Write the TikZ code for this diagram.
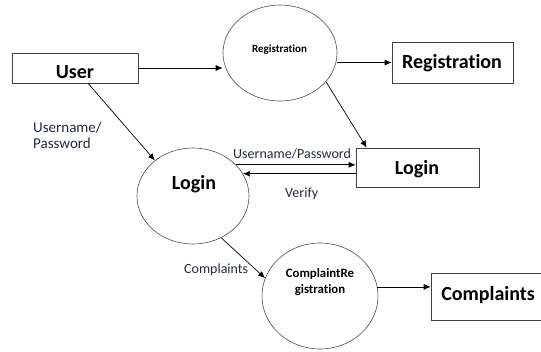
\documentclass[tikz,border=0pt]{standalone}
\usepackage{fontspec}
\setmainfont{Carlito}[Ligatures={NoCommon}]
\usetikzlibrary{shapes.geometric,arrows.meta}
\definecolor{lbl}{RGB}{35,42,60}
\tikzset{
  box/.style={draw=black!75, line width=0.6pt, rectangle, inner sep=0pt},
  proc/.style={draw=black!70, line width=0.6pt, ellipse, inner sep=0pt},
  bigtxt/.style={font=\fontsize{20}{22}\selectfont\bfseries, anchor=base, inner sep=0pt},
  smalltxt/.style={font=\fontsize{11}{13}\selectfont\bfseries, anchor=base, inner sep=0pt},
  lab/.style={font=\fontsize{14}{16}\selectfont, text=lbl, anchor=base west, inner sep=0pt},
  arr/.style={draw=black, line width=0.7pt, -{Latex[length=7pt,width=6pt]}}
}
\begin{document}
\begin{tikzpicture}[x=1pt,y=-1pt]
\useasboundingbox (0,0) rectangle (541,351);
% shapes
\node[box, minimum width=126pt, minimum height=30pt] (user) at (75,68) {};
\node[box, minimum width=121pt, minimum height=41pt] (regB) at (452.5,62.5) {};
\node[box, minimum width=123pt, minimum height=39pt] (loginB) at (417.5,167.5) {};
\node[box, minimum width=125pt, minimum height=47pt] (compB) at (493.5,296.5) {};
\node[proc, minimum width=114pt, minimum height=96pt] (regE) at (280,53) {};
\node[proc, minimum width=112pt, minimum height=96pt] (loginE) at (193,196) {};
\node[proc, minimum width=116pt, minimum height=106pt] (compE) at (320,296) {};
% texts
\node[bigtxt] (userT) at (75,78) {User};
\node[bigtxt] (regBT) at (452,68) {Registration};
\node[bigtxt] (loginBT) at (417,174) {Login};
\node[bigtxt] (compBT) at (488,300) {Complaints};
\node[bigtxt] (loginET) at (194,189) {Login};
\node[smalltxt] (regET) at (279.5,52) {Registration};
\node[smalltxt, font=\fontsize{12.8}{14}\selectfont\bfseries] (compET1) at (320,277) {ComplaintRe};
\node[smalltxt, font=\fontsize{12.8}{14}\selectfont\bfseries] (compET2) at (320,293) {gistration};
\node[lab, font=\fontsize{15}{17}\selectfont] (l1a) at (33,132) {Username/};
\node[lab, font=\fontsize{15}{17}\selectfont] (l1b) at (33,148) {Password};
\node[lab] (l2) at (233,158) {Username/Password};
\node[lab] (l3) at (285,197) {Verify};
\node[lab] (l4) at (184,273) {Complaints};
% connectors
\draw[arr] (user.east) -- (user.east -| regE.west);
\draw[arr] (regE.east |- regB.west) -- (regB.west);
\draw[arr] (regE.-32) -- ([xshift=11pt]loginB.north west);
\draw[arr] ([xshift=13pt]user.south) -- (loginE.137);
\draw[arr] (loginE.36) -- (loginE.36 -| loginB.west);
\draw[arr] (loginE.24 -| loginB.west) -- (loginE.24);
\draw[arr] (loginE.-56) -- (compE.162);
\draw[arr] (compE.9) -- (compE.9 -| compB.west);
\end{tikzpicture}
\end{document}
